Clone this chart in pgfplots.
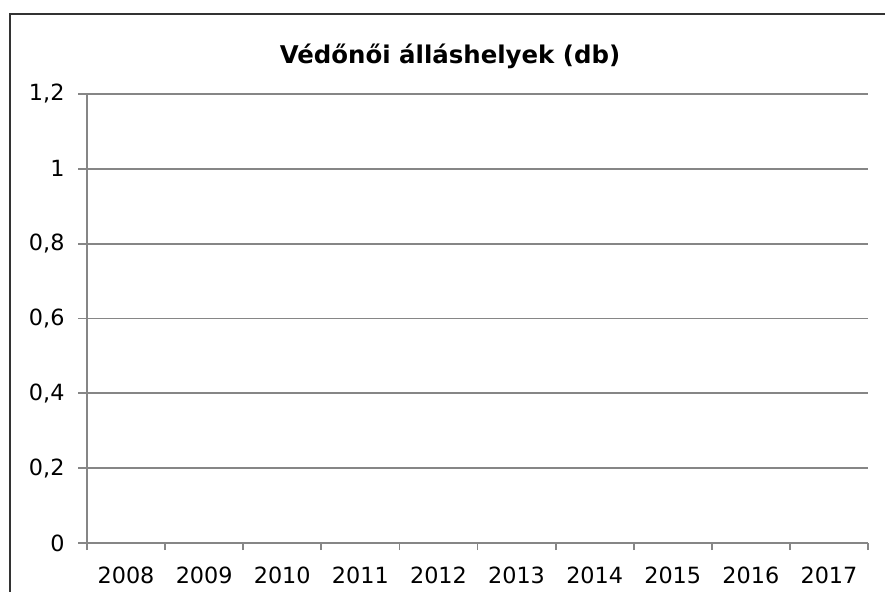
\documentclass[border=0pt]{standalone}
\usepackage{pgfplots}
\pgfplotsset{compat=1.18}
\usepackage{fontspec}
\setmainfont{DejaVu Sans}
\definecolor{gridgray}{HTML}{868686}
\definecolor{bordergray}{HTML}{333333}
\begin{document}
\begin{tikzpicture}
\path[use as bounding box] (0,0) rectangle (885bp,-592bp);
\draw[bordergray, line width=2.6bp] (10bp,-592bp) -- (10bp,-14bp) -- (885bp,-14bp);
\begin{axis}[
  at={(87bp,-543bp)}, anchor=origin,
  scale only axis,
  width=781bp, height=449bp,
  xmin=0, xmax=10, ymin=0, ymax=1.2,
  axis x line*=bottom,
  axis y line*=left,
  axis line style={gridgray, line width=1.8bp},
  xtick={0.5,1.5,...,9.5},
  xticklabels={2008,2009,2010,2011,2012,2013,2014,2015,2016,2017},
  major x tick style={draw=none},
  minor xtick={0,1,...,10},
  minor tick length=7bp,
  minor tick style={gridgray, line width=1.8bp},
  xtick align=outside,
  ytick={0,0.2,...,1.2},
  ytick align=outside,
  major tick length=9bp,
  ytick style={gridgray, line width=1.8bp},
  ymajorgrids,
  grid style={gridgray, line width=1.8bp},
  /pgf/number format/assume math mode=true,
  /pgf/number format/use comma,
  /pgf/number format/fixed,
  /pgf/number format/precision=1,
  tick label style={font=\fontsize{22.4}{26}\selectfont, text=black},
  yticklabel style={xshift=-10bp},
  xticklabel style={yshift=-11bp},
  clip=false,
]
\end{axis}
\node[font=\bfseries\fontsize{24.5}{28}\selectfont] at (450bp,-56bp) {Védőnői álláshelyek (db)};
\end{tikzpicture}
\end{document}
